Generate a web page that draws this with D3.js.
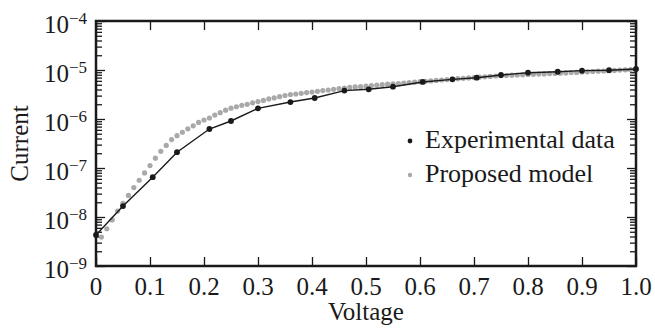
<!DOCTYPE html>
<html>
<head>
<meta charset="utf-8">
<script src="https://cdn.jsdelivr.net/npm/d3@7"></script>
<style>
  html, body { margin: 0; padding: 0; background: #fff; }
  svg { display: block; font-family: "Liberation Serif", "DejaVu Serif", serif; }
</style>
</head>
<body>
<div id="chart"></div>
<script>
const WIDTH = 655;
const HEIGHT = 329;

// measured data (black dots joined by a line)
const expVoltage = [0, 0.05, 0.105, 0.15, 0.21, 0.25, 0.30, 0.36, 0.405, 0.46, 0.505,
  0.55, 0.605, 0.66, 0.705, 0.75, 0.80, 0.855, 0.90, 0.95, 1.0];
const expCurrent = [4.3e-9, 1.67e-8, 6.5e-8, 2.1e-7, 6.25e-7, 9.1e-7, 1.65e-6, 2.22e-6,
  2.68e-6, 3.8e-6, 4.04e-6, 4.56e-6, 5.7e-6, 6.45e-6, 6.97e-6, 7.9e-6, 8.8e-6, 9.2e-6,
  9.7e-6, 9.9e-6, 1.05e-5];

// model curve (grey dots), current given as log10
const modelVoltage = [
  0.01, 0.02, 0.03, 0.04, 0.05, 0.06, 0.07, 0.08, 0.09, 0.10,
  0.11, 0.12, 0.13, 0.14, 0.15, 0.16, 0.17, 0.18, 0.19, 0.20,
  0.21, 0.22, 0.23, 0.24, 0.25, 0.26, 0.27, 0.28, 0.29, 0.30,
  0.31, 0.32, 0.33, 0.34, 0.35, 0.36, 0.37, 0.38, 0.39, 0.40,
  0.41, 0.42, 0.43, 0.44, 0.45, 0.46, 0.47, 0.48, 0.49, 0.50,
  0.51, 0.52, 0.53, 0.54, 0.55, 0.56, 0.57, 0.58, 0.59, 0.60,
  0.61, 0.62, 0.63, 0.64, 0.65, 0.66, 0.67, 0.68, 0.69, 0.70,
  0.71, 0.72, 0.73, 0.74, 0.75, 0.76, 0.77, 0.78, 0.79, 0.80,
  0.81, 0.82, 0.83, 0.84, 0.85, 0.86, 0.87, 0.88, 0.89, 0.90,
  0.91, 0.92, 0.93, 0.94, 0.95, 0.96, 0.97, 0.98, 0.99, 1.00
];
const modelLogCurrent = [
  -8.41, -8.24, -8.06, -7.88, -7.72, -7.56, -7.40, -7.25, -7.10, -6.95,
  -6.80, -6.66, -6.54, -6.42, -6.34, -6.27, -6.20, -6.14, -6.07, -6.02,
  -5.98, -5.92, -5.87, -5.82, -5.78, -5.75, -5.72, -5.70, -5.67, -5.645,
  -5.62, -5.59, -5.57, -5.545, -5.52, -5.50, -5.49, -5.475, -5.46, -5.45,
  -5.435, -5.42, -5.41, -5.395, -5.38, -5.37, -5.355, -5.345, -5.34, -5.33,
  -5.32, -5.31, -5.30, -5.29, -5.285, -5.275, -5.265, -5.257, -5.249, -5.239,
  -5.231, -5.222, -5.212, -5.204, -5.196, -5.186, -5.178, -5.169, -5.161, -5.155,
  -5.147, -5.139, -5.131, -5.122, -5.116, -5.112, -5.106, -5.102, -5.098, -5.092,
  -5.088, -5.084, -5.080, -5.073, -5.069, -5.065, -5.059, -5.053, -5.049, -5.043,
  -5.037, -5.031, -5.024, -5.020, -5.014, -5.008, -5.002, -4.996, -4.992, -4.986
];

const xTickValues = [0, 0.1, 0.2, 0.3, 0.4, 0.5, 0.6, 0.7, 0.8, 0.9, 1.0];
const xTickLabels = ["0", "0.1", "0.2", "0.3", "0.4", "0.5", "0.6", "0.7", "0.8", "0.9", "1.0"];
const yDecades = [-9, -8, -7, -6, -5, -4];
const legendLabels = ["Experimental data", "Proposed model"];

const margin = { top: 21, right: 19, bottom: 63, left: 96 };
const plotW = WIDTH - margin.left - margin.right;
const plotH = HEIGHT - margin.top - margin.bottom;

const svg = d3.select("#chart")
  .append("svg")
  .attr("width", WIDTH)
  .attr("height", HEIGHT);

const x = d3.scaleLinear().domain([0, 1]).range([margin.left, margin.left + plotW]);
const y = d3.scaleLog().domain([1e-9, 1e-4]).range([margin.top + plotH, margin.top]);

const ink = "#1a1a1a";
const grey = "#a9a9a9";

// ticks, all pointing inward
const allLogTicks = y.ticks();
const isMajor = (v) => Math.abs(Math.log10(v) - Math.round(Math.log10(v))) < 1e-6;

function styleAxis(g, majorLen, minorLen, horizontal) {
  g.select(".domain").remove();
  g.selectAll(".tick text").remove();
  g.selectAll(".tick line")
    .attr("stroke", ink)
    .attr("stroke-width", 1.3);
}

const leftAxis = svg.append("g")
  .attr("transform", `translate(${margin.left},0)`)
  .call(d3.axisLeft(y).tickValues(allLogTicks).tickSize(-6).tickFormat(""));
styleAxis(leftAxis);
leftAxis.selectAll(".tick line").attr("x2", (d) => isMajor(d) ? 9 : 6);

const rightAxis = svg.append("g")
  .attr("transform", `translate(${margin.left + plotW},0)`)
  .call(d3.axisRight(y).tickValues(allLogTicks).tickSize(-6).tickFormat(""));
styleAxis(rightAxis);
rightAxis.selectAll(".tick line").attr("x2", (d) => isMajor(d) ? -9 : -6);

const bottomAxis = svg.append("g")
  .attr("transform", `translate(0,${margin.top + plotH})`)
  .call(d3.axisBottom(x).tickValues(xTickValues).tickSize(-9).tickFormat(""));
styleAxis(bottomAxis);

const topAxis = svg.append("g")
  .attr("transform", `translate(0,${margin.top})`)
  .call(d3.axisTop(x).tickValues(xTickValues).tickSize(-9).tickFormat(""));
styleAxis(topAxis);

// x tick labels
svg.append("g")
  .selectAll("text")
  .data(xTickValues)
  .join("text")
  .attr("x", (d) => x(d))
  .attr("y", margin.top + plotH + 29)
  .attr("text-anchor", "middle")
  .attr("font-size", 25)
  .attr("fill", ink)
  .text((d, i) => xTickLabels[i]);

// y tick labels 10^n
const yLabels = svg.append("g")
  .selectAll("text")
  .data(yDecades)
  .join("text")
  .attr("x", margin.left - 9)
  .attr("y", (d) => y(Math.pow(10, d)) + 12)
  .attr("text-anchor", "end")
  .attr("font-size", 25)
  .attr("fill", ink);
yLabels.append("tspan").text("10");
yLabels.append("tspan")
  .attr("dy", -9)
  .attr("font-size", 17)
  .text((d) => "\u2212" + Math.abs(d));

// axis titles
svg.append("text")
  .attr("x", margin.left + plotW / 2)
  .attr("y", 320)
  .attr("text-anchor", "middle")
  .attr("font-size", 25)
  .attr("fill", ink)
  .text("Voltage");

svg.append("text")
  .attr("transform", `translate(28,${margin.top + plotH / 2}) rotate(-90)`)
  .attr("text-anchor", "middle")
  .attr("font-size", 25)
  .attr("fill", ink)
  .text("Current");

// model dots
const modelData = modelVoltage.map((v, i) => ({ v, c: Math.pow(10, modelLogCurrent[i]) }));
svg.append("g")
  .selectAll("circle")
  .data(modelData)
  .join("circle")
  .attr("cx", (d) => x(d.v))
  .attr("cy", (d) => y(d.c))
  .attr("r", 2.6)
  .attr("fill", grey);

// experimental line + dots
const expData = expVoltage.map((v, i) => ({ v, c: expCurrent[i] }));
svg.append("path")
  .datum(expData)
  .attr("fill", "none")
  .attr("stroke", ink)
  .attr("stroke-width", 1.4)
  .attr("d", d3.line().x((d) => x(d.v)).y((d) => y(d.c)));

svg.append("g")
  .selectAll("circle")
  .data(expData)
  .join("circle")
  .attr("cx", (d) => x(d.v))
  .attr("cy", (d) => y(d.c))
  .attr("r", 2.9)
  .attr("fill", ink);

// frame
svg.append("rect")
  .attr("x", margin.left)
  .attr("y", margin.top)
  .attr("width", plotW)
  .attr("height", plotH)
  .attr("fill", "none")
  .attr("stroke", ink)
  .attr("stroke-width", 2.5);

// legend
const legend = svg.append("g").attr("transform", "translate(410,141)");
const legendRows = legend.selectAll("g")
  .data(legendLabels)
  .join("g")
  .attr("transform", (d, i) => `translate(0,${i * 34})`);
legendRows.append("circle")
  .attr("r", (d, i) => i === 0 ? 2.4 : 2.2)
  .attr("fill", (d, i) => i === 0 ? ink : grey);
legendRows.append("text")
  .attr("x", 15)
  .attr("y", 7)
  .attr("font-size", 26)
  .attr("fill", ink)
  .text((d) => d);
</script>
</body>
</html>
